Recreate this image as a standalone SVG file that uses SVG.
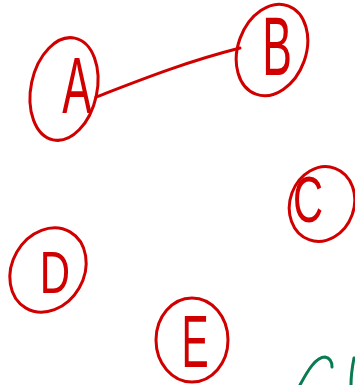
<svg xmlns="http://www.w3.org/2000/svg" width="355" height="385" viewBox="0 0 355 385">
<style>
.ring{fill:none;stroke:#d10000;stroke-width:3;stroke-linecap:round}
.lbl{font-family:"Liberation Sans",Arial,sans-serif;fill:#d10000;text-anchor:middle}
.edge{fill:none;stroke:#d10000;stroke-width:3;stroke-linecap:round}
.green{fill:none;stroke:#0a7a50;stroke-width:3;stroke-linecap:round}
</style>
<rect width="355" height="385" fill="#ffffff"/>
<g id="connectors">
<path class="edge" d="M96,97 C140,80 185,62 240,48"/>
</g>
<g id="node-A">
<ellipse class="ring" cx="64" cy="89" rx="33" ry="52" transform="rotate(12 64 89)"/>
<text class="lbl" font-size="80" transform="translate(77,113) scale(0.55,1)">A</text>
</g>
<g id="node-B">
<ellipse class="ring" cx="272" cy="50" rx="34" ry="47" transform="rotate(20 272 50)"/>
<text class="lbl" font-size="84" transform="translate(277,75) scale(0.53,1)">B</text>
</g>
<g id="node-C">
<ellipse class="ring" cx="322" cy="204" rx="32" ry="38" transform="rotate(20 322 204)"/>
<text class="lbl" font-size="65" transform="translate(308,222) scale(0.64,1)">C</text>
</g>
<g id="node-D">
<ellipse class="ring" cx="48" cy="270" rx="36" ry="44" transform="rotate(30 48 270)"/>
<text class="lbl" font-size="60" transform="translate(55,293) scale(0.7,1)">D</text>
</g>
<g id="node-E">
<ellipse class="ring" cx="192" cy="340" rx="36" ry="42"/>
<text class="lbl" font-size="74" transform="translate(195,367) scale(0.55,1)">E</text>
</g>
<path class="green" d="M300,385 C308,370 316,357 325,357 C330,358 332,362 332,367"/>
<path class="green" d="M354,358 C352,368 351,376 351,385"/>
</svg>
